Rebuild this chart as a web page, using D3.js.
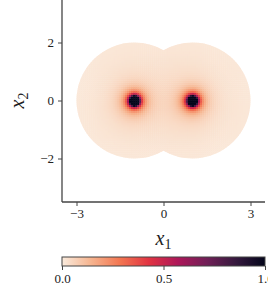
<!DOCTYPE html>
<html>
<head>
<meta charset="utf-8">
<script src="https://cdn.jsdelivr.net/npm/d3@7/dist/d3.min.js"></script>
<style>
body { margin: 0; background: #fff; }
svg { display: block; }
svg text { font-family: 'Liberation Serif', serif !important; }
</style>
</head>
<body>
<svg id="chart" width="268" height="299"></svg>
<script>
// data
var centers = [[-1, 0], [1, 0]];
var radius = 2;
var strength = 0.03;      // value ~ strength / r^2, clipped at 1
var xDomain = [-3.5, 3.5];
var yDomain = [-3.5, 3.5];
var xTicks = [-3, 0, 3];
var yTicks = [-2, 0, 2];
var cbTicks = [0, 0.5, 1];
var cbTickLabels = ["0.0", "0.5", "1.0"];
var rocketRStops = [0, 1/7, 2/7, 3/7, 4/7, 5/7, 6/7, 1];
var rocketRColors = ["#faebdd", "#f6b48f", "#f37651", "#e13342", "#ad1759", "#701f57", "#35193e", "#03051a"];
var cellSize = 0.07;

var svg = d3.select("#chart");
var left = 62, right = 265, bottom = 202;

var x = d3.scaleLinear().domain(xDomain).range([left, right]);
var y = d3.scaleLinear().domain(yDomain).range([bottom, bottom - (right - left)]);
var color = d3.scaleLinear().domain(rocketRStops).range(rocketRColors).clamp(true);

function fieldValue(px, py) {
	var v = 0;
	centers.forEach(function(c) {
		var d2 = (px - c[0]) * (px - c[0]) + (py - c[1]) * (py - c[1]);
		v += strength / Math.max(d2, 1e-6);
	});
	return Math.min(v, 1);
}

// clip the field to the union of the two disks
var clip = svg.append("defs").append("clipPath").attr("id", "disks");
clip.selectAll("circle")
	.data(centers)
	.enter()
	.append("circle")
	.attr("cx", function(d) { return x(d[0]); })
	.attr("cy", function(d) { return y(d[1]); })
	.attr("r", Math.abs(x(radius) - x(0)));

var cells = [];
var n = Math.round((xDomain[1] - xDomain[0]) / cellSize);
d3.range(n).forEach(function(i) {
	d3.range(n).forEach(function(j) {
		var cx = xDomain[0] + (i + 0.5) * cellSize;
		var cy = yDomain[0] + (j + 0.5) * cellSize;
		if (Math.abs(cx) > 3.1 || Math.abs(cy) > 2.1) return;
		cells.push({x: cx, y: cy, v: fieldValue(cx, cy)});
	});
});

var cw = Math.abs(x(cellSize) - x(0));
svg.append("g")
	.attr("clip-path", "url(#disks)")
	.selectAll("rect")
	.data(cells)
	.enter()
	.append("rect")
	.attr("x", function(d) { return x(d.x) - cw / 2; })
	.attr("y", function(d) { return y(d.y) - cw / 2; })
	.attr("width", cw + 0.4)
	.attr("height", cw + 0.4)
	.attr("fill", function(d) { return color(d.v); });

function minusFormat(d) { return d < 0 ? "\u2212" + Math.abs(d) : d; }

// axes
var xAxis = svg.append("g")
	.attr("transform", "translate(0," + bottom + ")")
	.call(d3.axisBottom(x).tickValues(xTicks).tickSize(4).tickPadding(3).tickFormat(minusFormat));
var yAxis = svg.append("g")
	.attr("transform", "translate(" + left + ",0)")
	.call(d3.axisLeft(y).tickValues(yTicks).tickSize(4).tickPadding(4).tickFormat(minusFormat));
[xAxis, yAxis].forEach(function(g) {
	g.attr("font-size", 13);
	g.select(".domain").attr("stroke", "#444").attr("stroke-width", 1.3);
	g.selectAll(".tick line").attr("stroke", "#444").attr("stroke-width", 1);
	g.selectAll(".tick text").attr("fill", "#222");
});
xAxis.select(".domain").attr("d", "M" + left + ",0H" + right);
yAxis.select(".domain").attr("d", "M0," + y(yDomain[1]) + "V" + bottom);

// axis labels
var xl = svg.append("text").attr("x", x(0)).attr("y", 245).attr("text-anchor", "middle")
	.attr("font-size", 20).attr("fill", "#222");
xl.append("tspan").attr("font-style", "italic").text("x");
xl.append("tspan").attr("dy", 4).attr("font-size", 14).text("1");

var yl = svg.append("text").attr("transform", "translate(24," + y(0) + ") rotate(-90)").attr("text-anchor", "middle")
	.attr("font-size", 20).attr("fill", "#222");
yl.append("tspan").attr("font-style", "italic").text("x");
yl.append("tspan").attr("dy", 4).attr("font-size", 14).text("2");

// colorbar
var cbTop = 257, cbH = 9;
var cbX = d3.scaleLinear().domain([0, 1]).range([left, right]);
var grad = svg.select("defs").append("linearGradient").attr("id", "cbgrad");
rocketRStops.forEach(function(s, i) {
	grad.append("stop").attr("offset", (s * 100) + "%").attr("stop-color", rocketRColors[i]);
});
svg.append("rect")
	.attr("x", left).attr("y", cbTop).attr("width", right - left).attr("height", cbH)
	.attr("fill", "url(#cbgrad)").attr("stroke", "#444").attr("stroke-width", 1);
var cbAxis = svg.append("g")
	.attr("transform", "translate(0," + (cbTop + cbH) + ")")
	.call(d3.axisBottom(cbX).tickValues(cbTicks).tickSize(4).tickPadding(4)
		.tickFormat(function(d, i) { return cbTickLabels[i]; }));
cbAxis.attr("font-size", 13);
cbAxis.select(".domain").remove();
cbAxis.selectAll(".tick line").attr("stroke", "#444");
cbAxis.selectAll(".tick text").attr("fill", "#222");
</script>
</body>
</html>
